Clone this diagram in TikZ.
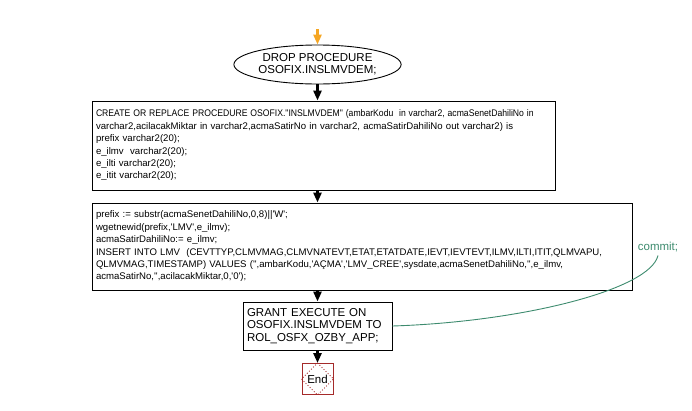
\documentclass[tikz,border=0pt]{standalone}
\usepackage{fontspec}
\setmainfont{Liberation Sans}[Ligatures=TeXOff]
\usetikzlibrary{shapes.geometric,arrows.meta}
\definecolor{startorange}{HTML}{F5A623}
\definecolor{commitgreen}{HTML}{3D8B6E}
\definecolor{endred}{HTML}{A52A2A}

\begin{document}
\begin{tikzpicture}[x=1pt, y=-1pt,
	every node/.style={font=\fontsize{11.5}{12.4}\selectfont},
	stmt/.style={draw, line width=0.9pt, align=left, inner xsep=4pt, inner ysep=0pt},
	code/.style={font=\fontsize{9.6}{12.4}\selectfont},
	flow/.style={-{Triangle[width=8pt,length=10pt]}, line width=2.5pt}]
	\useasboundingbox (0,0) rectangle (692,410);

	\coordinate (start) at (317.5,29);
	\node[draw, ellipse, line width=0.9pt, minimum width=139pt, minimum height=39pt, inner sep=0pt, align=center] (drop) at (317.5,64.5) {DROP PROCEDURE\\OSOFIX.INSLMVDEM;};

	\node[stmt, code, text width=455pt, minimum height=89pt] (create) at (323.5,145.5) {\scalebox{0.9}[1]{CREATE OR REPLACE PROCEDURE OSOFIX."INSLMVDEM" (ambarKodu\ \ in varchar2, acmaSenetDahiliNo in}\\
		varchar2,acilacakMiktar in varchar2,acmaSatirNo in varchar2, acmaSatirDahiliNo out varchar2) is\\
		prefix varchar2(20);\\
		e\_ilmv\ \ varchar2(20);\\
		e\_ilti varchar2(20);\\
		e\_itit varchar2(20);};

	\node[stmt, code, text width=532pt, minimum height=87pt] (body) at (362,246.5) {prefix := substr(acmaSenetDahiliNo,0,8)||'W';\\
		wgetnewid(prefix,'LMV',e\_ilmv);\\
		acmaSatirDahiliNo:= e\_ilmv;\\
		INSERT INTO LMV\ \ (CEVTTYP,CLMVMAG,CLMVNATEVT,ETAT,ETATDATE,IEVT,IEVTEVT,ILMV,ILTI,ITIT,QLMVAPU,\\
		QLMVMAG,TIMESTAMP) VALUES ('',ambarKodu,'AÇMA','LMV\_CREE',sysdate,acmaSenetDahiliNo,'',e\_ilmv,\\
		acmaSatirNo,'',acilacakMiktar,0,'0');};

	\node[stmt, text width=141pt, minimum height=48pt] (grant) at (317.5,326) {GRANT EXECUTE ON\\
		OSOFIX.INSLMVDEM TO\\
		ROL\_OSFX\_OZBY\_APP;};

	\node[draw=endred, line width=0.9pt, minimum size=31pt, inner sep=0pt] (end) at (317.5,379) {End};
	\draw[endred, dotted, line width=0.9pt] (end.north) -- (end.east) -- (end.south) -- (end.west) -- cycle;

	\node[text=commitgreen] (commit) at (658,247) {commit;};

	\draw[flow, startorange] (start) -- (drop.north);
	\draw[flow] (drop.south) -- (drop.south |- create.north);
	\draw[flow] (create.south -| drop.south) -- (body.north -| drop.south);
	\draw[flow] (body.south -| drop.south) -- (grant.north);
	\draw[flow] (grant.south) -- (end.north);
	\draw[commitgreen, line width=0.9pt] (grant.east) .. controls (520,322) and (650,290) .. (commit.south);

\end{tikzpicture}
\end{document}
